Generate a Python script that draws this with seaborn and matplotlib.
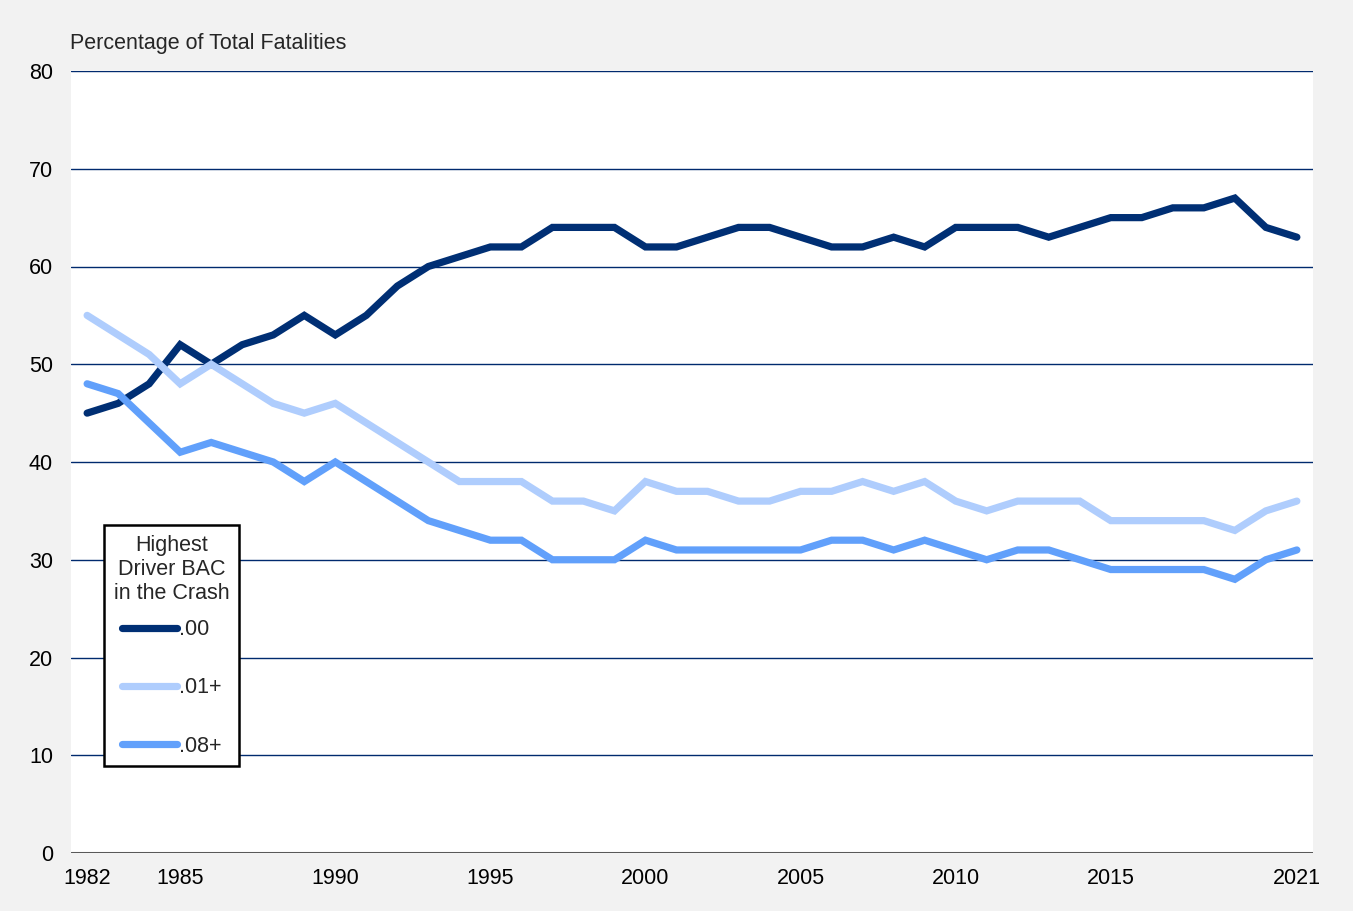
import pandas as pd
import seaborn as sns
import matplotlib
matplotlib.use("Agg")
import matplotlib.pyplot as plt

# data
years = list(range(1982, 2022))

bac_00 = [45, 46, 48, 52, 50, 52, 53, 55, 53, 55,
          58, 60, 61, 62, 62, 64, 64, 64, 62, 62,
          63, 64, 64, 63, 62, 62, 63, 62, 64, 64,
          64, 63, 64, 65, 65, 66, 66, 67, 64, 63]

bac_01 = [55, 53, 51, 48, 50, 48, 46, 45, 46, 44,
          42, 40, 38, 38, 38, 36, 36, 35, 38, 37,
          37, 36, 36, 37, 37, 38, 37, 38, 36, 35,
          36, 36, 36, 34, 34, 34, 34, 33, 35, 36]

bac_08 = [48, 47, 44, 41, 42, 41, 40, 38, 40, 38,
          36, 34, 33, 32, 32, 30, 30, 30, 32, 31,
          31, 31, 31, 31, 32, 32, 31, 32, 31, 30,
          31, 31, 30, 29, 29, 29, 29, 28, 30, 31]

series_labels = [".00", ".01+", ".08+"]
x_ticks = [1982, 1985, 1990, 1995, 2000, 2005, 2010, 2015, 2021]
y_ticks = [0, 10, 20, 30, 40, 50, 60, 70, 80]

df = pd.DataFrame({
    "year": years * 3,
    "pct": bac_00 + bac_01 + bac_08,
    "bac": [series_labels[0]] * 40 + [series_labels[1]] * 40 + [series_labels[2]] * 40,
})

palette = {".00": "#002f74", ".01+": "#afcdfd", ".08+": "#61a0fb"}

sns.set_style("white")
plt.rcParams["font.family"] = ["Liberation Sans", "DejaVu Sans"]

FS = 15.5

fig = plt.figure(figsize=(13.53, 9.11), dpi=100)
fig.patch.set_facecolor("#f2f2f2")
ax = fig.add_axes([71 / 1353, 58 / 911, 1242 / 1353, 782 / 911])
ax.set_facecolor("white")

# gridlines first so the series sit on top
for v in y_ticks[1:]:
    ax.axhline(v, color="#002a6e", lw=1.0, zorder=1)
ax.axhline(0, color="#595959", lw=2.2, zorder=1)

sns.lineplot(data=df, x="year", y="pct", hue="bac", palette=palette,
             linewidth=5.2, ax=ax, zorder=3, legend=True)
for ln in ax.get_lines():
    ln.set_solid_capstyle("round")
    ln.set_solid_joinstyle("miter")

ax.set_xlim(1981.48, 2021.52)
ax.set_ylim(0, 80)
ax.set_xticks(x_ticks)
ax.set_yticks(y_ticks)
ax.tick_params(axis="both", length=0, labelsize=FS, colors="black")
ax.tick_params(axis="y", pad=13)
ax.tick_params(axis="x", pad=11)
ax.set_xlabel("")
ax.set_ylabel("")
for s in ax.spines.values():
    s.set_visible(False)

fig.text(70 / 1353, 1 - 43 / 911, "Percentage of Total Fatalities",
         fontsize=FS, va="center", ha="left")

handles, labels = ax.get_legend_handles_labels()
for h in handles:
    h.set_linewidth(5.2)
    h.set_solid_capstyle("round")
leg = ax.legend(handles, labels, title="Highest\nDriver BAC\nin the Crash",
                loc="lower left", bbox_to_anchor=(0.0266, 0.111),
                borderaxespad=0, fontsize=FS, title_fontsize=FS,
                handlelength=2.55, handletextpad=0.1, labelspacing=1.72,
                borderpad=0.45, fancybox=False, framealpha=1)
leg.get_frame().set_edgecolor("black")
leg.get_frame().set_linewidth(1.8)
leg.get_title().set_multialignment("center")
leg.get_title().set_linespacing(1.2)
leg._legend_box.sep = 11  # tighter gap between title and entries
leg.set_zorder(5)

fig.savefig("out.png", dpi=100, facecolor=fig.get_facecolor())
